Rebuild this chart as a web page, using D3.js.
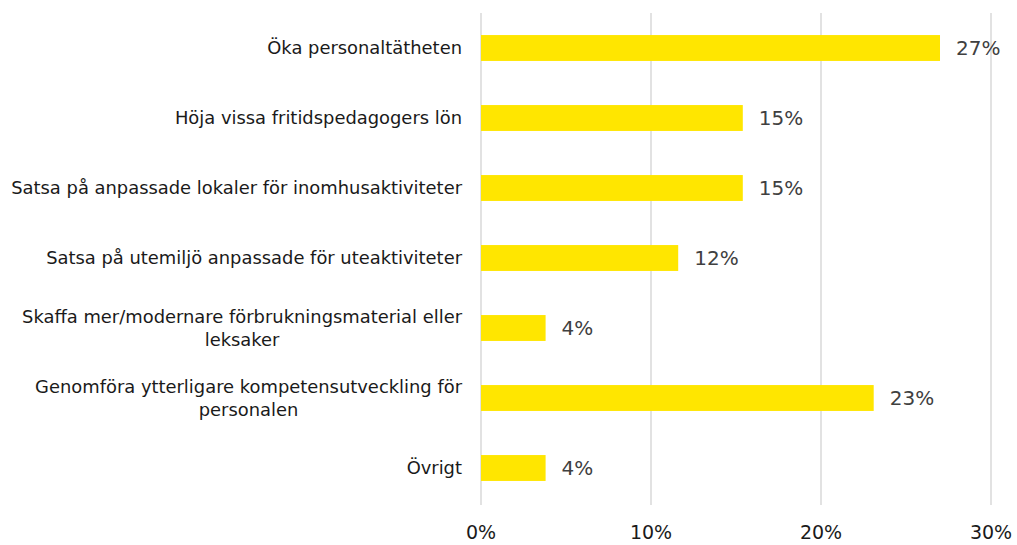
<!DOCTYPE html>
<html><head><meta charset="utf-8">
<script src="https://cdn.jsdelivr.net/npm/d3@7"></script>
<style>body{margin:0;background:#fff}svg{display:block}</style>
</head><body>
<svg id="c" width="1017" height="545"></svg>
<script>
const categories = [
  ["Öka personaltätheten"],
  ["Höja vissa fritidspedagogers lön"],
  ["Satsa på anpassade lokaler för inomhusaktiviteter"],
  ["Satsa på utemiljö anpassade för uteaktiviteter"],
  ["Skaffa mer/modernare förbrukningsmaterial eller", "leksaker"],
  ["Genomföra ytterligare kompetensutveckling för", "personalen"],
  ["Övrigt"]
];
const values = [27.0, 15.4, 15.4, 11.6, 3.8, 23.1, 3.8];
const valueLabels = ["27%", "15%", "15%", "12%", "4%", "23%", "4%"];
const ticks = [0, 10, 20, 30];
const tickLabels = ["0%", "10%", "20%", "30%"];

const svg = d3.select("#c");
const FONT = "'DejaVu Sans', sans-serif";
const x = d3.scaleLinear().domain([0, 30]).range([481, 991]);
const y = d3.scaleBand().domain(d3.range(categories.length)).range([13, 503]).paddingInner(0.63).paddingOuter(0.315);

// gridlines
svg.append("g").selectAll("line").data(ticks).join("line")
  .attr("x1", d => x(d)).attr("x2", d => x(d))
  .attr("y1", 13).attr("y2", 505)
  .attr("stroke", "#d9d9d9").attr("stroke-width", 1.5);

// bars
svg.append("g").selectAll("rect").data(values).join("rect")
  .attr("x", x(0)).attr("y", (d, i) => y(i))
  .attr("width", d => x(d) - x(0)).attr("height", y.bandwidth())
  .attr("fill", "#FFE600");

// value labels
svg.append("g").selectAll("text").data(values).join("text")
  .attr("x", d => x(d) + 16).attr("y", (d, i) => y(i) + y.bandwidth() / 2)
  .attr("dy", "0.36em")
  .attr("font-family", FONT).attr("font-size", 20).attr("fill", "#404040")
  .text((d, i) => valueLabels[i]);

// category labels
const lab = svg.append("g");
categories.forEach((lines, i) => {
  const cy = y(i) + y.bandwidth() / 2;
  const lh = 23;
  const g = lab.append("g");
  const texts = lines.map((t, j) => g.append("text")
    .attr("y", cy + (j - (lines.length - 1) / 2) * lh)
    .attr("dy", "0.36em")
    .attr("font-family", FONT).attr("font-size", 17.9).attr("fill", "#1a1a1a")
    .text(t));
  const widths = texts.map(t => t.node().getComputedTextLength());
  const maxW = d3.max(widths);
  const cx = 462 - maxW / 2;
  texts.forEach(t => t.attr("x", cx).attr("text-anchor", "middle"));
});

// x axis labels
svg.append("g").selectAll("text").data(ticks).join("text")
  .attr("x", d => x(d)).attr("y", 532).attr("dy", "0.36em")
  .attr("text-anchor", "middle")
  .attr("font-family", FONT).attr("font-size", 19).attr("fill", "#1a1a1a")
  .text((d, i) => tickLabels[i]);
</script>
</body></html>
